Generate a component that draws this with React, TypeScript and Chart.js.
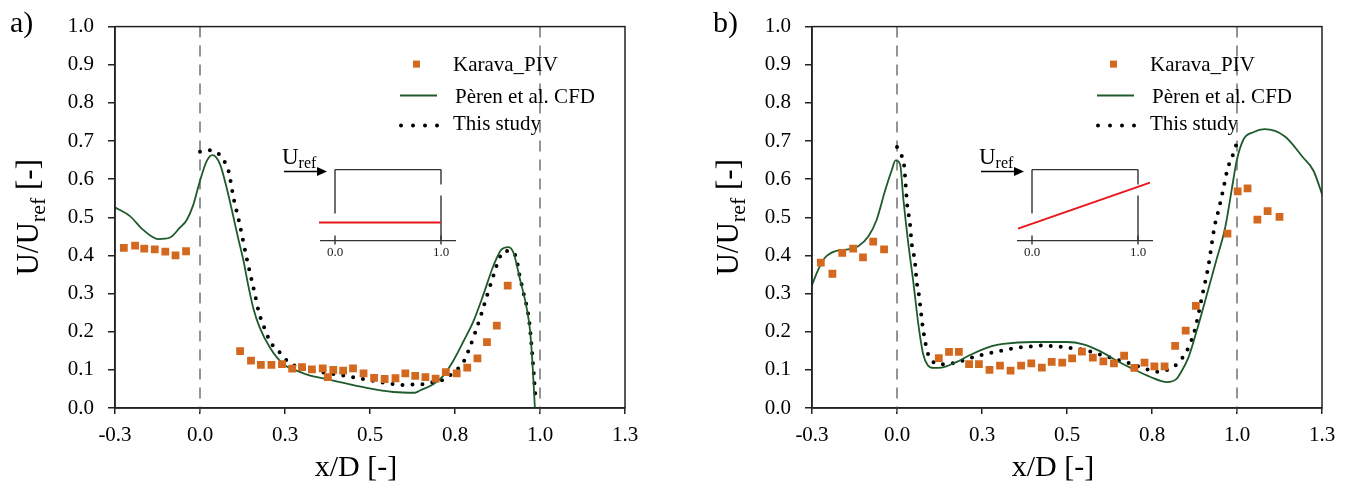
import React, { useEffect, useRef } from 'react';
import { Chart, registerables } from 'chart.js';

Chart.register(...registerables);

// ---------- axis ticks ----------
const X_TICK_VALUES = [-0.25, 0, 0.25, 0.5, 0.75, 1.0, 1.25];
const X_TICK_LABELS = ['-0.3', '0.0', '0.3', '0.5', '0.8', '1.0', '1.3'];
const Y_TICK_VALUES = [0, 0.1, 0.2, 0.3, 0.4, 0.5, 0.6, 0.7, 0.8, 0.9, 1.0];
const Y_TICK_LABELS = ['0.0', '0.1', '0.2', '0.3', '0.4', '0.5', '0.6', '0.7', '0.8', '0.9', '1.0'];
const OPENING_X = [0, 1];

const SERIES_NAMES = ['Karava_PIV', 'Pèren et al. CFD', 'This study'];

// ---------- panel a ----------
const KARAVA_A_X = [-0.224, -0.191, -0.164, -0.133, -0.102, -0.072, -0.041, 0.118, 0.150, 0.179, 0.210, 0.241, 0.271, 0.300, 0.329, 0.361, 0.376, 0.392, 0.421, 0.450, 0.481, 0.512, 0.543, 0.575, 0.604, 0.633, 0.663, 0.693, 0.723, 0.755, 0.786, 0.816, 0.844, 0.873, 0.905];
const KARAVA_A_Y = [0.420, 0.426, 0.418, 0.416, 0.410, 0.400, 0.411, 0.149, 0.124, 0.113, 0.113, 0.115, 0.103, 0.107, 0.101, 0.104, 0.081, 0.100, 0.098, 0.104, 0.091, 0.079, 0.076, 0.078, 0.091, 0.084, 0.081, 0.077, 0.094, 0.091, 0.106, 0.130, 0.173, 0.216, 0.321];

const PEREN_A_X = [-0.25, -0.206, -0.167, -0.123, -0.088, -0.06, -0.039, -0.02, 0.0, 0.02, 0.037, 0.059, 0.078, 0.098, 0.113, 0.127, 0.142, 0.157, 0.176, 0.206, 0.245, 0.284, 0.324, 0.373, 0.49, 0.569, 0.632, 0.647, 0.686, 0.716, 0.745, 0.775, 0.804, 0.833, 0.863, 0.887, 0.907, 0.922, 0.941, 0.961, 0.971, 0.978, 0.985];
const PEREN_A_Y = [0.526, 0.503, 0.467, 0.443, 0.447, 0.472, 0.493, 0.532, 0.596, 0.648, 0.663, 0.639, 0.579, 0.502, 0.442, 0.390, 0.321, 0.261, 0.210, 0.158, 0.115, 0.098, 0.085, 0.076, 0.053, 0.042, 0.040, 0.046, 0.062, 0.085, 0.124, 0.175, 0.227, 0.296, 0.373, 0.416, 0.422, 0.407, 0.338, 0.261, 0.201, 0.115, 0.0];

const STUDY_A_X = [0.0, 0.029, 0.054, 0.074, 0.085, 0.09, 0.1, 0.113, 0.125, 0.137, 0.149, 0.162, 0.174, 0.186, 0.206, 0.235, 0.262, 0.299, 0.343, 0.402, 0.459, 0.516, 0.574, 0.603, 0.632, 0.662, 0.691, 0.716, 0.74, 0.76, 0.777, 0.789, 0.809, 0.828, 0.845, 0.863, 0.88, 0.897, 0.92, 0.931, 0.939, 0.951, 0.968, 0.978, 0.983, 0.988];
const STUDY_A_Y = [0.672, 0.676, 0.667, 0.643, 0.618, 0.594, 0.545, 0.497, 0.446, 0.394, 0.347, 0.296, 0.248, 0.218, 0.175, 0.145, 0.119, 0.106, 0.096, 0.088, 0.079, 0.070, 0.062, 0.060, 0.062, 0.063, 0.069, 0.074, 0.089, 0.104, 0.124, 0.149, 0.197, 0.248, 0.297, 0.347, 0.392, 0.412, 0.410, 0.390, 0.351, 0.304, 0.229, 0.132, 0.074, 0.015];

// ---------- panel b ----------
const KARAVA_B_X = [-0.224, -0.19, -0.161, -0.129, -0.1, -0.07, -0.038, 0.123, 0.153, 0.182, 0.212, 0.241, 0.272, 0.303, 0.334, 0.365, 0.395, 0.426, 0.455, 0.486, 0.515, 0.544, 0.576, 0.607, 0.638, 0.668, 0.698, 0.728, 0.757, 0.787, 0.818, 0.849, 0.879, 0.972, 1.002, 1.031, 1.06, 1.09, 1.125];
const KARAVA_B_Y = [0.381, 0.352, 0.407, 0.418, 0.395, 0.436, 0.416, 0.131, 0.147, 0.147, 0.115, 0.115, 0.100, 0.111, 0.098, 0.111, 0.117, 0.106, 0.121, 0.119, 0.130, 0.148, 0.132, 0.122, 0.117, 0.137, 0.105, 0.119, 0.109, 0.109, 0.163, 0.203, 0.268, 0.457, 0.568, 0.576, 0.494, 0.516, 0.501];

const PEREN_B_X = [-0.251, -0.231, -0.212, -0.182, -0.143, -0.114, -0.084, -0.06, -0.035, -0.016, -0.004, 0.009, 0.019, 0.033, 0.048, 0.063, 0.077, 0.09, 0.107, 0.131, 0.171, 0.22, 0.279, 0.312, 0.401, 0.499, 0.548, 0.597, 0.646, 0.695, 0.744, 0.794, 0.823, 0.832, 0.857, 0.881, 0.911, 0.94, 0.965, 0.984, 0.999, 1.019, 1.048, 1.081, 1.141, 1.195, 1.225, 1.253];
const PEREN_B_Y = [0.320, 0.364, 0.394, 0.411, 0.416, 0.424, 0.450, 0.493, 0.570, 0.622, 0.649, 0.639, 0.545, 0.433, 0.330, 0.218, 0.141, 0.113, 0.105, 0.106, 0.119, 0.141, 0.162, 0.168, 0.173, 0.173, 0.167, 0.149, 0.124, 0.102, 0.082, 0.068, 0.077, 0.089, 0.132, 0.201, 0.296, 0.390, 0.472, 0.570, 0.648, 0.704, 0.723, 0.731, 0.712, 0.656, 0.622, 0.553];

const STUDY_B_X = [0.0, 0.014, 0.021, 0.026, 0.03, 0.038, 0.043, 0.048, 0.053, 0.058, 0.063, 0.07, 0.077, 0.082, 0.087, 0.097, 0.12, 0.151, 0.177, 0.205, 0.232, 0.261, 0.288, 0.318, 0.344, 0.374, 0.403, 0.432, 0.461, 0.489, 0.519, 0.546, 0.574, 0.602, 0.629, 0.658, 0.685, 0.713, 0.741, 0.768, 0.796, 0.821, 0.84, 0.857, 0.876, 0.899, 0.916, 0.934, 0.947, 0.96, 0.972, 0.99, 0.998];
const STUDY_B_Y = [0.684, 0.661, 0.635, 0.579, 0.532, 0.485, 0.433, 0.409, 0.381, 0.330, 0.306, 0.255, 0.204, 0.180, 0.154, 0.132, 0.115, 0.115, 0.121, 0.127, 0.136, 0.141, 0.147, 0.152, 0.157, 0.160, 0.162, 0.164, 0.162, 0.160, 0.156, 0.153, 0.147, 0.139, 0.132, 0.124, 0.117, 0.108, 0.100, 0.095, 0.100, 0.113, 0.132, 0.158, 0.205, 0.300, 0.373, 0.476, 0.523, 0.575, 0.626, 0.669, 0.691];

const FONT = '"Liberation Serif", "Times New Roman", serif';
const ORANGE = '#D2691E';
const GREEN = '#1E5B2C';
const RED = '#E8161B';

function zip(xs: number[], ys: number[]) {
  return xs.map((x, i) => ({ x, y: ys[i] }));
}

type PanelProps = {
  left: number;
  width: number;
  padL: number;
  padR: number;
  label: string;
  labelX: number;
  yTitleOffset: number;
  profile: 'uniform' | 'linear';
  kx: number[]; ky: number[];
  px: number[]; py: number[];
  sx: number[]; sy: number[];
};

function line(ctx: CanvasRenderingContext2D, x1: number, y1: number, x2: number, y2: number) {
  ctx.beginPath();
  ctx.moveTo(x1, y1);
  ctx.lineTo(x2, y2);
  ctx.stroke();
}

function Panel(p: PanelProps) {
  const ref = useRef<HTMLCanvasElement>(null);
  useEffect(() => {
    const overlay = {
      id: 'overlay',
      beforeDatasetsDraw(chart: any) {
        const { ctx, chartArea: ca, scales } = chart;
        ctx.save();
        ctx.strokeStyle = '#7a7a7a';
        ctx.lineWidth = 1.6;
        ctx.setLineDash([11, 8]);
        for (const v of OPENING_X) {
          const xp = scales.x.getPixelForValue(v);
          line(ctx, xp, ca.top, xp, ca.bottom + 4);
        }
        ctx.restore();
      },
      afterDatasetsDraw(chart: any) {
        const { ctx, chartArea: ca } = chart;
        ctx.save();
        ctx.strokeStyle = '#222';
        ctx.lineWidth = 1.5;
        ctx.strokeRect(ca.left, ca.top, ca.right - ca.left, ca.bottom - ca.top);
        ctx.restore();
      },
      afterDraw(chart: any) {
        const { ctx, chartArea: ca } = chart;
        const L = ca.left;
        const T = ca.top;
        ctx.save();
        // ---- legend ----
        ctx.font = `21px ${FONT}`;
        ctx.textAlign = 'left';
        ctx.textBaseline = 'alphabetic';
        ctx.fillStyle = ORANGE;
        ctx.fillRect(L + 298, T + 34, 7, 7);
        ctx.fillStyle = '#000';
        ctx.fillText(SERIES_NAMES[0], L + 338, T + 44);
        ctx.strokeStyle = GREEN;
        ctx.lineWidth = 2;
        line(ctx, L + 285, T + 69, L + 322, T + 69);
        ctx.fillText(SERIES_NAMES[1], L + 340, T + 76);
        for (let i = 0; i < 4; i++) {
          ctx.beginPath();
          ctx.arc(L + 286 + i * 12, T + 99, 2, 0, Math.PI * 2);
          ctx.fill();
        }
        ctx.fillText(SERIES_NAMES[2], L + 338, T + 103);

        // ---- inset ----
        ctx.strokeStyle = '#333';
        ctx.lineWidth = 1.4;
        line(ctx, L + 220, T + 143, L + 326, T + 143);
        line(ctx, L + 220, T + 143, L + 220, T + 187);
        line(ctx, L + 326, T + 143, L + 326, T + 158);
        line(ctx, L + 326, T + 169, L + 326, T + 214);
        line(ctx, L + 205, T + 214, L + 341, T + 214);
        line(ctx, L + 220, T + 209, L + 220, T + 218);
        line(ctx, L + 326, T + 209, L + 326, T + 218);
        ctx.font = `13px ${FONT}`;
        ctx.textAlign = 'center';
        ctx.fillStyle = '#222';
        ctx.fillText('0.0', L + 220, T + 229);
        ctx.fillText('1.0', L + 326, T + 229);
        ctx.strokeStyle = RED;
        ctx.lineWidth = 2;
        if (p.profile === 'uniform') {
          line(ctx, L + 204, T + 196, L + 326, T + 196);
        } else {
          line(ctx, L + 206, T + 202, L + 338, T + 156);
        }
        // arrow
        ctx.strokeStyle = '#000';
        ctx.lineWidth = 1.5;
        line(ctx, L + 169, T + 145, L + 204, T + 145);
        ctx.fillStyle = '#000';
        ctx.beginPath();
        ctx.moveTo(L + 212, T + 145);
        ctx.lineTo(L + 202, T + 140.5);
        ctx.lineTo(L + 202, T + 149.5);
        ctx.closePath();
        ctx.fill();
        ctx.textAlign = 'left';
        ctx.font = `23px ${FONT}`;
        ctx.fillText('U', L + 167, T + 137);
        const uw = ctx.measureText('U').width;
        ctx.font = `16px ${FONT}`;
        ctx.fillText('ref', L + 167 + uw, T + 141);

        // ---- x title ----
        ctx.font = `30px ${FONT}`;
        ctx.textAlign = 'center';
        ctx.fillStyle = '#000';
        ctx.fillText('x/D [-]', (ca.left + ca.right) / 2 - 14, 476);

        // ---- y title ----
        ctx.save();
        ctx.translate(L - p.yTitleOffset, (ca.top + ca.bottom) / 2);
        ctx.rotate(-Math.PI / 2);
        const main = `31px ${FONT}`;
        const sub = `22px ${FONT}`;
        ctx.font = main;
        const w1 = ctx.measureText('U/U').width;
        const w3 = ctx.measureText(' [-]').width;
        ctx.font = sub;
        const w2 = ctx.measureText('ref').width;
        let x = -(w1 + w2 + w3) / 2;
        ctx.textAlign = 'left';
        ctx.fillStyle = '#000';
        ctx.font = main;
        ctx.fillText('U/U', x, 0);
        x += w1;
        ctx.font = sub;
        ctx.fillText('ref', x, 7);
        x += w2;
        ctx.font = main;
        ctx.fillText(' [-]', x, 0);
        ctx.restore();

        // ---- panel label ----
        ctx.font = `30px ${FONT}`;
        ctx.fillStyle = '#000';
        ctx.textAlign = 'left';
        ctx.fillText(p.label, p.labelX, 32);
        ctx.restore();
      },
    };

    const tickFont = { family: FONT, size: 21 };
    const chart = new Chart(ref.current as HTMLCanvasElement, {
      type: 'scatter',
      data: {
        datasets: [
          {
            label: SERIES_NAMES[0],
            data: zip(p.kx, p.ky),
            pointStyle: 'rect',
            pointRadius: 5.5,
            backgroundColor: ORANGE,
            borderColor: ORANGE,
            borderWidth: 0,
            showLine: false,
          },
          {
            label: SERIES_NAMES[1],
            data: zip(p.px, p.py),
            showLine: true,
            pointRadius: 0,
            borderColor: GREEN,
            borderWidth: 1.8,
            cubicInterpolationMode: 'monotone',
          },
          {
            label: SERIES_NAMES[2],
            data: zip(p.sx, p.sy),
            showLine: true,
            pointRadius: 0,
            borderColor: '#000',
            borderWidth: 4,
            borderDash: [0, 10],
            borderCapStyle: 'round',
            cubicInterpolationMode: 'monotone',
          },
        ],
      } as any,
      options: {
        animation: false,
        responsive: false,
        devicePixelRatio: 1,
        layout: { padding: { left: p.padL, right: p.padR, top: 20, bottom: 0 } },
        plugins: { legend: { display: false }, tooltip: { enabled: false } },
        scales: {
          x: {
            type: 'linear',
            min: -0.25,
            max: 1.25,
            afterBuildTicks: (s: any) => {
              s.ticks = X_TICK_VALUES.map((v) => ({ value: v }));
            },
            afterFit: (s: any) => {
              s.height = 77;
            },
            ticks: {
              autoSkip: false,
              maxRotation: 0,
              padding: 9,
              color: '#000',
              font: tickFont,
              callback: (_v: any, i: number) => X_TICK_LABELS[i],
            },
            grid: { drawOnChartArea: false, tickLength: 6, color: '#222', lineWidth: 1.5 },
            border: { color: '#222', width: 1.5 },
            title: { display: false },
          },
          y: {
            type: 'linear',
            min: 0,
            max: 1,
            afterBuildTicks: (s: any) => {
              s.ticks = Y_TICK_VALUES.map((v) => ({ value: v }));
            },
            afterFit: (s: any) => {
              s.width = 60;
            },
            ticks: {
              padding: 14,
              color: '#000',
              font: tickFont,
              callback: (_v: any, i: number) => Y_TICK_LABELS[i],
            },
            grid: { drawOnChartArea: false, tickLength: 7, color: '#222', lineWidth: 1.5 },
            border: { color: '#222', width: 1.5 },
          },
        },
      } as any,
      plugins: [overlay],
    });
    return () => chart.destroy();
  }, []);
  return (
    <canvas
      ref={ref}
      width={p.width}
      height={485}
      style={{ position: 'absolute', left: p.left, top: 0, width: p.width, height: 485, display: 'block' }}
    />
  );
}

export default function App() {
  return (
    <div style={{ position: 'absolute', left: 0, top: 0, width: 1349, height: 485, background: '#fff', overflow: 'hidden' }}>
      <Panel left={0} width={675} padL={55} padR={50} label="a)" labelX={10} yTitleOffset={77} profile="uniform"
        kx={KARAVA_A_X} ky={KARAVA_A_Y} px={PEREN_A_X} py={PEREN_A_Y} sx={STUDY_A_X} sy={STUDY_A_Y} />
      <Panel left={675} width={674} padL={77} padR={27} label="b)" labelX={38} yTitleOffset={74} profile="linear"
        kx={KARAVA_B_X} ky={KARAVA_B_Y} px={PEREN_B_X} py={PEREN_B_Y} sx={STUDY_B_X} sy={STUDY_B_Y} />
    </div>
  );
}
